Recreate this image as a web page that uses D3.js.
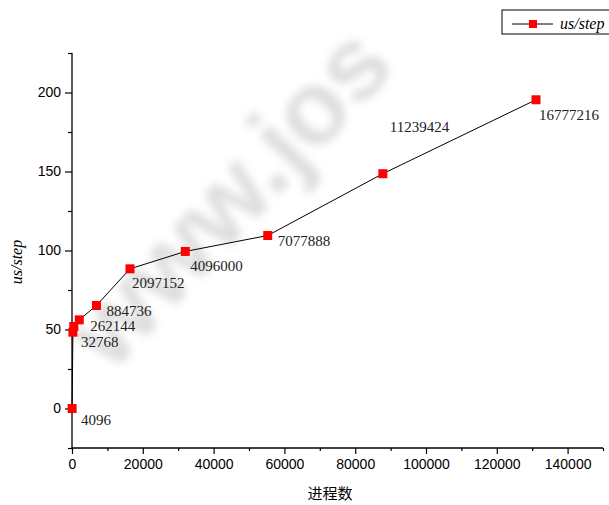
<!DOCTYPE html>
<html><head><meta charset="utf-8">
<script src="https://cdn.jsdelivr.net/npm/d3@7"></script>
<style>body{margin:0;background:#fff}svg{display:block}</style>
</head><body>
<svg id="c" width="609" height="505"></svg>
<script>
// data
const procs = [32, 256, 512, 2048, 6912, 16384, 32000, 55296, 87808, 131072];
const usPerStep = [0, 48.3, 51.9, 56.1, 65.2, 88.4, 99.4, 109.5, 148.6, 195.4];
const sizeLabels = ["4096", "32768", "", "262144", "884736", "2097152", "4096000", "7077888", "11239424", "16777216"];
const xTicks = [0, 20000, 40000, 60000, 80000, 100000, 120000, 140000];
const yTicks = [0, 50, 100, 150, 200];
const seriesName = "us/step";
const xTitle = "进程数";
const yTitle = "us/step";

// label placement (style)
const labelOffsets = [[9,16],[8,15],[0,0],[11,11],[10,11],[2,19],[5,20],[10,11],[7,-42],[3,20]];

const svg = d3.select("#c");
const x = d3.scaleLinear().domain([0, 150000]).range([72, 603]);
const y = d3.scaleLinear().domain([-25, 225]).range([448, 53]);

// watermark
const defs = svg.append("defs");
defs.append("filter").attr("id","blur").append("feGaussianBlur").attr("stdDeviation", 4);
svg.append("text").attr("transform","translate(112,374) rotate(-47)")
  .attr("font-family","Liberation Sans, Arial, sans-serif").attr("font-weight","bold")
  .attr("font-size", 104).attr("fill","#dedede").attr("filter","url(#blur)")
  .text("www.jos");

// axes
const xAxis = svg.append("g").attr("transform", `translate(0,${y(-25)})`)
  .call(d3.axisBottom(x).tickValues(xTicks).tickSize(6).tickPadding(5).tickFormat(d3.format("d")));
svg.append("g").attr("transform", `translate(0,${y(-25)})`)
  .call(d3.axisBottom(x).tickValues(d3.range(10000, 150001, 20000)).tickSize(3).tickFormat(""))
  .select(".domain").remove();
const yAxis = svg.append("g").attr("transform", `translate(${x(0)},0)`)
  .call(d3.axisLeft(y).tickValues(yTicks).tickSize(7).tickPadding(4));
svg.append("g").attr("transform", `translate(${x(0)},0)`)
  .call(d3.axisLeft(y).tickValues([-25, 25, 75, 125, 175, 225]).tickSize(4).tickFormat(""))
  .select(".domain").remove();
svg.selectAll(".domain").attr("stroke","#000").attr("stroke-width",1.3);
svg.selectAll(".tick line").attr("stroke","#000").attr("stroke-width",1.2);
svg.selectAll(".tick text").attr("font-family","Liberation Sans, Arial, sans-serif")
  .attr("font-size", 14).attr("fill","#000");
yAxis.selectAll(".domain").attr("d", `M0,${y(225)}V${y(-25)}`);
xAxis.selectAll(".domain").attr("d", `M${x(0)},0H${x(150000)}`);

// line
const pts = procs.map((p, i) => ({p, v: usPerStep[i], label: sizeLabels[i], off: labelOffsets[i]}));
svg.append("path").datum(pts)
  .attr("d", d3.line().x(d => x(d.p)).y(d => y(d.v)))
  .attr("fill","none").attr("stroke","#000").attr("stroke-width",1);

svg.selectAll("rect.pt").data(pts).join("rect").attr("class","pt")
  .attr("x", d => x(d.p) - 4.5).attr("y", d => y(d.v) - 4.5)
  .attr("width", 9).attr("height", 9).attr("fill", "#ff0000");

svg.selectAll("text.lbl").data(pts.filter(d => d.label)).join("text").attr("class","lbl")
  .attr("x", d => x(d.p) + d.off[0]).attr("y", d => y(d.v) + d.off[1])
  .attr("font-family","Liberation Serif, Times New Roman, serif").attr("font-size", 15)
  .attr("fill","#222").text(d => d.label);

// titles
svg.append("text").attr("x", 330).attr("y", 499).attr("text-anchor","middle")
  .attr("font-family","Noto Sans CJK SC, sans-serif").attr("font-size", 15).text(xTitle);
svg.append("text").attr("transform", "translate(22,262) rotate(-90)").attr("text-anchor","middle")
  .attr("font-family","Liberation Serif, Times New Roman, serif").attr("font-style","italic")
  .attr("font-size", 16).text(yTitle);

// legend
const lg = svg.append("g");
lg.append("rect").attr("x", 502).attr("y", 10).attr("width", 120).attr("height", 24)
  .attr("fill","#fff").attr("stroke","#000").attr("stroke-width",1);
lg.append("line").attr("x1", 512).attr("x2", 553).attr("y1", 24).attr("y2", 24).attr("stroke","#000");
lg.append("rect").attr("x", 529).attr("y", 20).attr("width", 8).attr("height", 8).attr("fill","#ff0000");
lg.append("text").attr("x", 560).attr("y", 29)
  .attr("font-family","Liberation Serif, Times New Roman, serif").attr("font-style","italic")
  .attr("font-size", 16).text(seriesName);
</script>
</body></html>
